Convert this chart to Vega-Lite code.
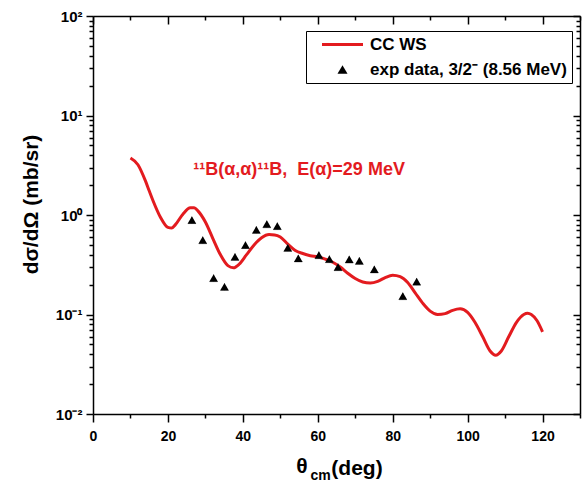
{
  "$schema": "https://vega.github.io/schema/vega-lite/v6.json",
  "width": 487,
  "height": 398,
  "autosize": {"type": "none"},
  "padding": {"left": 93, "top": 16, "right": 2, "bottom": 71},
  "background": "white",
  "config": {
    "view": {"stroke": null},
    "font": "Liberation Sans",
    "axis": {
      "domainColor": "black", "domainWidth": 1.5,
      "tickColor": "black", "tickWidth": 1.5,
      "labelFont": "Liberation Sans", "labelFontWeight": "bold", "labelFontSize": 14, "labelColor": "black",
      "titleFont": "Liberation Sans", "titleFontWeight": "bold", "titleColor": "black",
      "grid": false, "labelOverlap": false, "labelFlush": false
    }
  },
  "datasets": {
    "curve": [
      {"theta": 10, "sigma": 3.74}, {"theta": 12, "sigma": 3.2}, {"theta": 14, "sigma": 2.2},
      {"theta": 15, "sigma": 1.75}, {"theta": 16, "sigma": 1.4}, {"theta": 18, "sigma": 0.95},
      {"theta": 20, "sigma": 0.75}, {"theta": 21, "sigma": 0.74}, {"theta": 22, "sigma": 0.8},
      {"theta": 24, "sigma": 1.02}, {"theta": 26, "sigma": 1.18}, {"theta": 27, "sigma": 1.18},
      {"theta": 28, "sigma": 1.1}, {"theta": 30, "sigma": 0.85}, {"theta": 32, "sigma": 0.58},
      {"theta": 34, "sigma": 0.4}, {"theta": 36, "sigma": 0.31}, {"theta": 37.5, "sigma": 0.295},
      {"theta": 39, "sigma": 0.32}, {"theta": 41, "sigma": 0.4}, {"theta": 43, "sigma": 0.5},
      {"theta": 45, "sigma": 0.59}, {"theta": 47, "sigma": 0.635}, {"theta": 48.5, "sigma": 0.63},
      {"theta": 50, "sigma": 0.6}, {"theta": 52, "sigma": 0.51}, {"theta": 54, "sigma": 0.44},
      {"theta": 56, "sigma": 0.41}, {"theta": 58, "sigma": 0.39}, {"theta": 60, "sigma": 0.38},
      {"theta": 62, "sigma": 0.36}, {"theta": 64, "sigma": 0.335}, {"theta": 66, "sigma": 0.3},
      {"theta": 68, "sigma": 0.26}, {"theta": 70, "sigma": 0.23}, {"theta": 72, "sigma": 0.212},
      {"theta": 74, "sigma": 0.207}, {"theta": 76, "sigma": 0.215}, {"theta": 78, "sigma": 0.235},
      {"theta": 80, "sigma": 0.248}, {"theta": 82, "sigma": 0.24}, {"theta": 84, "sigma": 0.21},
      {"theta": 86, "sigma": 0.165}, {"theta": 88, "sigma": 0.13}, {"theta": 90, "sigma": 0.108},
      {"theta": 92, "sigma": 0.1}, {"theta": 94, "sigma": 0.102}, {"theta": 96, "sigma": 0.11},
      {"theta": 98, "sigma": 0.114}, {"theta": 100, "sigma": 0.105}, {"theta": 102, "sigma": 0.083},
      {"theta": 104, "sigma": 0.06}, {"theta": 106, "sigma": 0.043}, {"theta": 107.5, "sigma": 0.039},
      {"theta": 109, "sigma": 0.043}, {"theta": 111, "sigma": 0.06}, {"theta": 113, "sigma": 0.083},
      {"theta": 115, "sigma": 0.1}, {"theta": 116, "sigma": 0.103}, {"theta": 117, "sigma": 0.1},
      {"theta": 118.5, "sigma": 0.087}, {"theta": 120, "sigma": 0.067}
    ],
    "exp": [
      {"theta": 26.4, "sigma": 0.89, "lo": 0.82, "hi": 0.96, "series": "exp data, 3/2⁻ (8.56 MeV)"},
      {"theta": 29.3, "sigma": 0.56, "lo": 0.515, "hi": 0.605, "series": "exp data, 3/2⁻ (8.56 MeV)"},
      {"theta": 32.2, "sigma": 0.233, "lo": 0.214, "hi": 0.252, "series": "exp data, 3/2⁻ (8.56 MeV)"},
      {"theta": 35.1, "sigma": 0.19, "lo": 0.175, "hi": 0.205, "series": "exp data, 3/2⁻ (8.56 MeV)"},
      {"theta": 37.9, "sigma": 0.38, "lo": 0.35, "hi": 0.41, "series": "exp data, 3/2⁻ (8.56 MeV)"},
      {"theta": 40.7, "sigma": 0.5, "lo": 0.46, "hi": 0.54, "series": "exp data, 3/2⁻ (8.56 MeV)"},
      {"theta": 43.6, "sigma": 0.71, "lo": 0.653, "hi": 0.767, "series": "exp data, 3/2⁻ (8.56 MeV)"},
      {"theta": 46.4, "sigma": 0.81, "lo": 0.745, "hi": 0.875, "series": "exp data, 3/2⁻ (8.56 MeV)"},
      {"theta": 49.2, "sigma": 0.775, "lo": 0.713, "hi": 0.837, "series": "exp data, 3/2⁻ (8.56 MeV)"},
      {"theta": 52.0, "sigma": 0.47, "lo": 0.432, "hi": 0.508, "series": "exp data, 3/2⁻ (8.56 MeV)"},
      {"theta": 54.8, "sigma": 0.367, "lo": 0.338, "hi": 0.396, "series": "exp data, 3/2⁻ (8.56 MeV)"},
      {"theta": 60.3, "sigma": 0.396, "lo": 0.364, "hi": 0.428, "series": "exp data, 3/2⁻ (8.56 MeV)"},
      {"theta": 63.1, "sigma": 0.361, "lo": 0.332, "hi": 0.39, "series": "exp data, 3/2⁻ (8.56 MeV)"},
      {"theta": 65.4, "sigma": 0.3, "lo": 0.276, "hi": 0.324, "series": "exp data, 3/2⁻ (8.56 MeV)"},
      {"theta": 68.4, "sigma": 0.359, "lo": 0.33, "hi": 0.388, "series": "exp data, 3/2⁻ (8.56 MeV)"},
      {"theta": 71.1, "sigma": 0.347, "lo": 0.319, "hi": 0.375, "series": "exp data, 3/2⁻ (8.56 MeV)"},
      {"theta": 75.1, "sigma": 0.285, "lo": 0.262, "hi": 0.308, "series": "exp data, 3/2⁻ (8.56 MeV)"},
      {"theta": 82.7, "sigma": 0.153, "lo": 0.141, "hi": 0.165, "series": "exp data, 3/2⁻ (8.56 MeV)"},
      {"theta": 86.4, "sigma": 0.214, "lo": 0.197, "hi": 0.231, "series": "exp data, 3/2⁻ (8.56 MeV)"}
    ]
  },
  "layer": [
    {
      "data": {"name": "curve"},
      "mark": {"type": "line", "color": "#e31b1f", "strokeWidth": 3, "interpolate": "monotone"},
      "encoding": {
        "x": {
          "field": "theta", "type": "quantitative",
          "scale": {"domain": [0, 130], "nice": false, "zero": false},
          "axis": {
            "orient": "bottom",
            "values": [0, 10, 20, 30, 40, 50, 60, 70, 80, 90, 100, 110, 120, 130],
            "labelExpr": "datum.value % 20 == 0 ? format(datum.value, 'd') : ''",
            "tickSize": {"condition": {"test": "datum.value % 20 == 0", "value": 8}, "value": 4},
            "labelPadding": 7,
            "title": "θ", "titleFontSize": 21, "titleAngle": 0,
            "titleX": 208.5, "titleY": 58, "titleAlign": "center", "titleBaseline": "alphabetic"
          }
        },
        "y": {
          "field": "sigma", "type": "quantitative",
          "scale": {"type": "log", "domain": [0.01, 100], "nice": false},
          "axis": {
            "orient": "left",
            "values": [0.01, 0.02, 0.03, 0.04, 0.05, 0.06, 0.07, 0.08, 0.09, 0.1, 0.2, 0.3, 0.4, 0.5, 0.6, 0.7, 0.8, 0.9, 1, 2, 3, 4, 5, 6, 7, 8, 9, 10, 20, 30, 40, 50, 60, 70, 80, 90, 100],
            "labelExpr": "datum.value == 100 ? '10²' : datum.value == 10 ? '10¹' : datum.value == 1 ? '10⁰' : datum.value == 0.1 ? '10⁻¹' : datum.value == 0.01 ? '10⁻²' : ''",
            "tickSize": {"condition": {"test": "datum.value == 100 || datum.value == 10 || datum.value == 1 || datum.value == 0.1 || datum.value == 0.01", "value": 7}, "value": 4},
            "labelPadding": 4, "labelFontSize": 15,
            "title": "dσ/dΩ (mb/sr)", "titleFontSize": 21,
            "titleX": -62, "titleY": 188, "titleAlign": "center", "titleBaseline": "middle"
          }
        }
      }
    },
    {
      "data": {"name": "exp"},
      "mark": {"type": "rule", "color": "#808080", "strokeWidth": 1},
      "encoding": {
        "x": {"field": "theta", "type": "quantitative", "axis": null},
        "y": {"field": "lo", "type": "quantitative", "scale": {"type": "log"}, "axis": null},
        "y2": {"field": "hi"}
      }
    },
    {
      "data": {"name": "exp"},
      "mark": {"type": "tick", "orient": "horizontal", "color": "#808080", "size": 8},
      "encoding": {
        "x": {"field": "theta", "type": "quantitative", "axis": null},
        "y": {"field": "lo", "type": "quantitative", "scale": {"type": "log"}, "axis": null}
      }
    },
    {
      "data": {"name": "exp"},
      "mark": {"type": "point", "filled": true, "opacity": 1, "size": 75},
      "encoding": {
        "x": {
          "field": "theta", "type": "quantitative",
          "axis": {
            "orient": "top", "labels": false,
            "values": [0, 10, 20, 30, 40, 50, 60, 70, 80, 90, 100, 110, 120, 130],
            "tickSize": {"condition": {"test": "datum.value % 20 == 0", "value": -8}, "value": -4},
            "title": "(deg)", "titleFontSize": 21, "titleAngle": 0,
            "titleX": 263.5, "titleY": 458, "titleAlign": "center", "titleBaseline": "alphabetic"
          }
        },
        "y": {
          "field": "sigma", "type": "quantitative",
          "scale": {"type": "log"},
          "axis": {
            "orient": "right", "labels": false,
            "values": [0.01, 0.02, 0.03, 0.04, 0.05, 0.06, 0.07, 0.08, 0.09, 0.1, 0.2, 0.3, 0.4, 0.5, 0.6, 0.7, 0.8, 0.9, 1, 2, 3, 4, 5, 6, 7, 8, 9, 10, 20, 30, 40, 50, 60, 70, 80, 90, 100],
            "tickSize": {"condition": {"test": "datum.value == 100 || datum.value == 10 || datum.value == 1 || datum.value == 0.1 || datum.value == 0.01", "value": -7}, "value": -4},
            "title": "cm", "titleFontSize": 14, "titleAngle": 0,
            "titleX": -260, "titleY": 463, "titleAlign": "center", "titleBaseline": "alphabetic"
          }
        },
        "color": {
          "field": "series", "type": "nominal",
          "scale": {"domain": ["CC WS", "exp data, 3/2⁻ (8.56 MeV)"], "range": ["#e31b1f", "black"]},
          "legend": {
            "orient": "none", "legendX": 213, "legendY": 15, "title": null,
            "strokeColor": "black", "fillColor": "white", "padding": 5,
            "labelFont": "Liberation Sans", "labelFontWeight": "bold", "labelFontSize": 17, "labelColor": "black", "labelLimit": 400,
            "symbolSize": 100, "symbolStrokeWidth": 0, "symbolOffset": 23, "labelOffset": 19, "rowPadding": 7
          }
        },
        "shape": {
          "field": "series", "type": "nominal",
          "scale": {"domain": ["CC WS", "exp data, 3/2⁻ (8.56 MeV)"], "range": ["M-4.1,-0.3H4.1V0.3H-4.1Z", "triangle-up"]},
          "legend": {
            "orient": "none", "legendX": 213, "legendY": 15, "title": null,
            "strokeColor": "black", "fillColor": "white", "padding": 5,
            "labelFont": "Liberation Sans", "labelFontWeight": "bold", "labelFontSize": 17, "labelColor": "black", "labelLimit": 400,
            "symbolSize": 100, "symbolStrokeWidth": 0, "symbolOffset": 23, "labelOffset": 19, "rowPadding": 7
          }
        }
      }
    },
    {
      "data": {"values": [{}]},
      "mark": {"type": "text", "text": "¹¹B(α,α)¹¹B,\u00a0 E(α)=29 MeV", "color": "#e31b1f", "fontSize": 18, "fontWeight": "bold", "font": "Liberation Sans", "align": "center", "baseline": "middle"},
      "encoding": {
        "x": {"datum": 55, "type": "quantitative", "axis": null},
        "y": {"datum": 2.83, "type": "quantitative", "scale": {"type": "log"}, "axis": null}
      }
    }
  ],
  "resolve": {"axis": {"x": "independent", "y": "independent"}}
}
